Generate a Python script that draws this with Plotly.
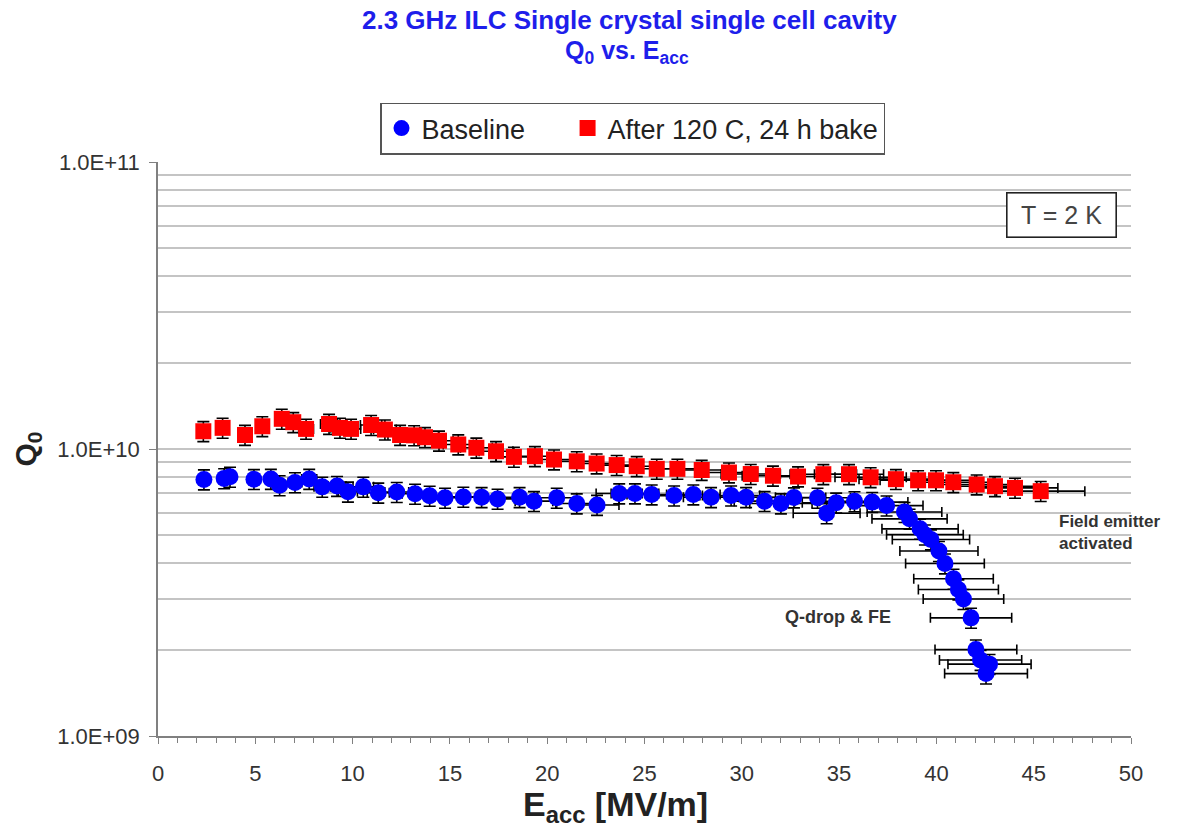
import plotly.graph_objects as go

# ---- data ----
baseline_E = [2.36, 3.4, 3.7, 4.93, 5.80, 6.25, 7.04, 7.77, 8.44, 9.20,
              9.76, 10.55, 11.32, 12.27, 13.21, 13.96, 14.75, 15.69, 16.63, 17.45,
              18.58, 19.32, 20.49, 21.52, 22.56, 23.70, 24.51, 25.37, 26.52, 27.51,
              28.42, 29.45, 30.22, 31.17, 32.01, 32.68, 33.89, 34.36, 34.85, 35.79,
              36.70, 37.44, 38.36, 38.62, 39.16, 39.41, 39.72, 40.13, 40.44, 40.88,
              41.13, 41.39, 41.78, 42.03, 42.27, 42.55, 42.73]
baseline_Q = [7.83e9, 7.9e9, 8.0e9, 7.85e9, 7.86e9, 7.47e9, 7.65e9, 7.86e9, 7.38e9, 7.43e9,
              7.10e9, 7.38e9, 7.04e9, 7.08e9, 6.98e9, 6.87e9, 6.76e9, 6.81e9, 6.79e9, 6.70e9,
              6.79e9, 6.58e9, 6.76e9, 6.46e9, 6.38e9, 7.0e9, 7.0e9, 6.94e9, 6.88e9, 6.94e9,
              6.79e9, 6.88e9, 6.79e9, 6.58e9, 6.46e9, 6.78e9, 6.76e9, 5.97e9, 6.50e9, 6.57e9,
              6.53e9, 6.35e9, 6.03e9, 5.71e9, 5.27e9, 5.03e9, 4.84e9, 4.41e9, 3.99e9, 3.53e9,
              3.24e9, 3.0e9, 2.58e9, 2.0e9, 1.84e9, 1.65e9, 1.78e9]

baked_E = [2.33, 3.32, 4.47, 5.36, 6.36, 6.95, 7.61, 8.79, 9.35, 9.92,
           10.95, 11.66, 12.44, 13.16, 13.72, 14.44, 15.43, 16.36, 17.37, 18.29,
           19.37, 20.35, 21.52, 22.54, 23.57, 24.60, 25.63, 26.69, 27.94, 29.34,
           30.46, 31.60, 32.89, 34.19, 35.51, 36.62, 37.92, 39.06, 39.98, 40.87,
           42.07, 43.01, 44.04, 45.36]
baked_Q = [1.153e10, 1.185e10, 1.119e10, 1.20e10, 1.274e10, 1.24e10, 1.175e10, 1.222e10, 1.185e10, 1.175e10,
           1.212e10, 1.169e10, 1.119e10, 1.116e10, 1.099e10, 1.069e10, 1.037e10, 1.01e10, 9.82e9, 9.39e9,
           9.44e9, 9.19e9, 9.06e9, 8.90e9, 8.79e9, 8.71e9, 8.53e9, 8.53e9, 8.45e9, 8.28e9,
           8.18e9, 8.07e9, 8.02e9, 8.17e9, 8.17e9, 7.97e9, 7.85e9, 7.78e9, 7.78e9, 7.66e9,
           7.52e9, 7.42e9, 7.32e9, 7.13e9]

series_names = ["Baseline", "After 120 C, 24 h bake"]

E_err_percent = 5
Q_err_percent = 8

y_tickvals = [1e9, 1e10, 1e11]
y_ticktext = ["1.0E+09", "1.0E+10", "1.0E+11"]
y_minor = [m * 10 ** d for d in (9, 10) for m in range(2, 10)]

FONT = "Liberation Sans, Arial, sans-serif"
BLUE_TITLE = "rgb(30,30,235)"
NBSP = "\u00a0"

fig = go.Figure()

fig.add_trace(go.Scatter(
    x=baseline_E, y=baseline_Q, mode="markers", name=series_names[0] + NBSP * 5,
    marker=dict(symbol="circle", size=17, color="#0000FF"),
    error_x=dict(type="percent", value=E_err_percent, color="black", thickness=1.6, width=5),
    error_y=dict(type="percent", value=Q_err_percent, color="black", thickness=1.6, width=6),
))
fig.add_trace(go.Scatter(
    x=baked_E, y=baked_Q, mode="markers", name=series_names[1],
    marker=dict(symbol="square", size=16, color="#FF0000"),
    error_x=dict(type="percent", value=E_err_percent, color="black", thickness=1.6, width=5),
    error_y=dict(type="percent", value=Q_err_percent, color="black", thickness=1.6, width=6),
))

fig.update_xaxes(
    range=[0, 50], dtick=5, tick0=0,
    ticks="outside", ticklen=6, tickcolor="#808080", tickwidth=1,
    showline=True, linecolor="#808080", linewidth=1.5,
    showgrid=False, zeroline=False,
    minor=dict(dtick=1, ticks="outside", ticklen=5, tickcolor="#808080", showgrid=False),
    tickfont=dict(family=FONT, size=22, color="#333333"),
    ticklabelstandoff=11,
)
fig.update_yaxes(
    type="log", range=[9, 11],
    tickmode="array", tickvals=y_tickvals, ticktext=y_ticktext,
    ticks="outside", ticklen=7, tickcolor="#808080",
    showline=True, linecolor="#808080", linewidth=1.5,
    showgrid=True, gridcolor="#c4c4c4", gridwidth=1.6,
    zeroline=False,
    minor=dict(tickvals=y_minor, showgrid=True, gridcolor="#c4c4c4", gridwidth=1.6, ticks=""),
    tickfont=dict(family=FONT, size=22, color="#333333"),
    ticklabelstandoff=5,
    title=dict(text="<b>Q<sub>0</sub></b>", font=dict(family=FONT, size=30, color="#222222"),
               standoff=12),
)

def py2paper(py):
    return (736.5 - py) / 574.0

def px2paper(px):
    return (px - 158.0) / 973.0

annotations = [
    dict(text="<b>2.3 GHz ILC Single crystal single cell cavity</b>", xref="paper", yref="paper",
         x=px2paper(629), y=py2paper(21), xanchor="center", yanchor="middle", showarrow=False,
         font=dict(family=FONT, size=26, color=BLUE_TITLE)),
    dict(text="<b>Q<sub>0</sub> vs. E<sub>acc</sub></b>", xref="paper", yref="paper",
         x=px2paper(627), y=py2paper(52), xanchor="center", yanchor="middle", showarrow=False,
         font=dict(family=FONT, size=25, color=BLUE_TITLE)),
    dict(text="<b>E<sub>acc</sub> [MV/m]</b>", xref="paper", yref="paper",
         x=px2paper(615), y=py2paper(807), xanchor="center", yanchor="middle", showarrow=False,
         font=dict(family=FONT, size=34, color="#222222")),
    dict(text="T = 2 K", xref="paper", yref="paper",
         x=px2paper(1061.5), y=py2paper(215.5), xanchor="center", yanchor="middle", showarrow=False,
         width=106, height=41, align="center", bordercolor="#222222", borderwidth=1.6,
         bgcolor="white", font=dict(family=FONT, size=25, color="#444444")),
    dict(text="<b>Field emitter<br>activated</b>", xref="paper", yref="paper",
         x=px2paper(1057), y=py2paper(533), xanchor="left", yanchor="middle", showarrow=False,
         align="left", font=dict(family=FONT, size=17, color="#333333")),
    dict(text="<b>Q-drop & FE</b>", xref="paper", yref="paper",
         x=px2paper(838), y=py2paper(617), xanchor="center", yanchor="middle", showarrow=False,
         font=dict(family=FONT, size=18, color="#333333")),
]

fig.update_layout(
    width=1189, height=827,
    margin=dict(l=158, r=58, t=162, b=91),
    paper_bgcolor="white", plot_bgcolor="white",
    font=dict(family=FONT),
    showlegend=True,
    legend=dict(
        orientation="h", x=px2paper(380), y=py2paper(103), xanchor="left", yanchor="top",
        bordercolor="#555555", borderwidth=1.5, bgcolor="white",
        font=dict(family=FONT, size=27, color="#222222"),
        itemwidth=30,
    ),
    annotations=annotations,
)

fig.write_html("out.html")
